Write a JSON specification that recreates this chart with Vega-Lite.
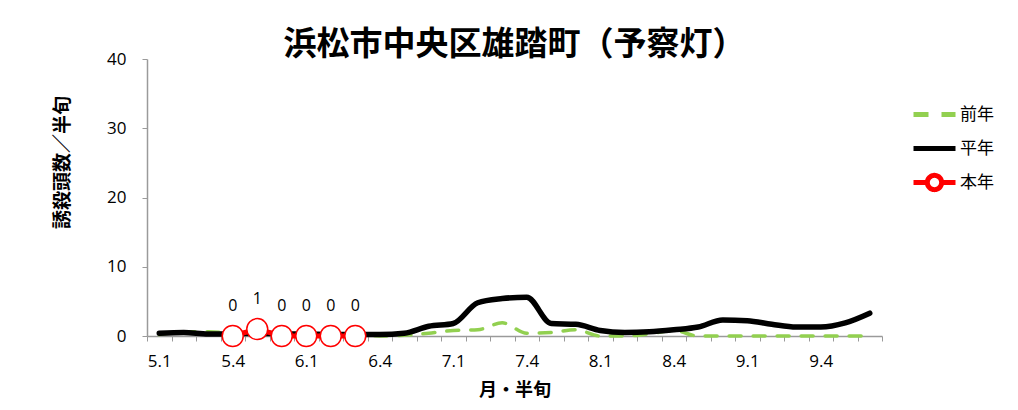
{
  "$schema": "https://vega.github.io/schema/vega-lite/v6.json",
  "width": 735,
  "height": 277,
  "autosize": {"type": "none"},
  "padding": {"left": 147, "top": 59, "right": 136, "bottom": 74},
  "background": "white",
  "config": {
    "view": {"stroke": null},
    "font": "Noto Sans CJK JP"
  },
  "title": {
    "text": "浜松市中央区雄踏町（予察灯）",
    "fontSize": 33,
    "fontWeight": "bold",
    "font": "Noto Sans CJK JP",
    "color": "black",
    "anchor": "middle",
    "frame": "group",
    "baseline": "middle",
    "offset": -28
  },
  "data": {
    "values": [
      {"period": "5.1", "series": "前年", "value": 0.2},
      {"period": "5.2", "series": "前年", "value": 0.6},
      {"period": "5.3", "series": "前年", "value": 0.6},
      {"period": "5.4", "series": "前年", "value": 0.4},
      {"period": "5.5", "series": "前年", "value": 0.3},
      {"period": "5.6", "series": "前年", "value": 0.3},
      {"period": "6.1", "series": "前年", "value": 0.2},
      {"period": "6.2", "series": "前年", "value": 0.2},
      {"period": "6.3", "series": "前年", "value": 0.2},
      {"period": "6.4", "series": "前年", "value": 0},
      {"period": "6.5", "series": "前年", "value": 0.1},
      {"period": "6.6", "series": "前年", "value": 0.4},
      {"period": "7.1", "series": "前年", "value": 0.8},
      {"period": "7.2", "series": "前年", "value": 0.9},
      {"period": "7.3", "series": "前年", "value": 1.9},
      {"period": "7.4", "series": "前年", "value": 0.4},
      {"period": "7.5", "series": "前年", "value": 0.5},
      {"period": "7.6", "series": "前年", "value": 0.9},
      {"period": "8.1", "series": "前年", "value": 0},
      {"period": "8.2", "series": "前年", "value": 0},
      {"period": "8.3", "series": "前年", "value": 0.3},
      {"period": "8.4", "series": "前年", "value": 0.8},
      {"period": "8.5", "series": "前年", "value": 0},
      {"period": "8.6", "series": "前年", "value": 0},
      {"period": "9.1", "series": "前年", "value": 0},
      {"period": "9.2", "series": "前年", "value": 0},
      {"period": "9.3", "series": "前年", "value": 0},
      {"period": "9.4", "series": "前年", "value": 0},
      {"period": "9.5", "series": "前年", "value": 0},
      {"period": "9.6", "series": "前年", "value": 0},
      {"period": "5.1", "series": "平年", "value": 0.4},
      {"period": "5.2", "series": "平年", "value": 0.5},
      {"period": "5.3", "series": "平年", "value": 0.3},
      {"period": "5.4", "series": "平年", "value": 0.3},
      {"period": "5.5", "series": "平年", "value": 0.4},
      {"period": "5.6", "series": "平年", "value": 0.3},
      {"period": "6.1", "series": "平年", "value": 0.3},
      {"period": "6.2", "series": "平年", "value": 0.2},
      {"period": "6.3", "series": "平年", "value": 0.2},
      {"period": "6.4", "series": "平年", "value": 0.2},
      {"period": "6.5", "series": "平年", "value": 0.4},
      {"period": "6.6", "series": "平年", "value": 1.4},
      {"period": "7.1", "series": "平年", "value": 1.8},
      {"period": "7.2", "series": "平年", "value": 4.8},
      {"period": "7.3", "series": "平年", "value": 5.4},
      {"period": "7.4", "series": "平年", "value": 5.6},
      {"period": "7.5", "series": "平年", "value": 1.8},
      {"period": "7.6", "series": "平年", "value": 1.7},
      {"period": "8.1", "series": "平年", "value": 0.8},
      {"period": "8.2", "series": "平年", "value": 0.5},
      {"period": "8.3", "series": "平年", "value": 0.6},
      {"period": "8.4", "series": "平年", "value": 0.9},
      {"period": "8.5", "series": "平年", "value": 1.3},
      {"period": "8.6", "series": "平年", "value": 2.3},
      {"period": "9.1", "series": "平年", "value": 2.2},
      {"period": "9.2", "series": "平年", "value": 1.7},
      {"period": "9.3", "series": "平年", "value": 1.3},
      {"period": "9.4", "series": "平年", "value": 1.3},
      {"period": "9.5", "series": "平年", "value": 1.9},
      {"period": "9.6", "series": "平年", "value": 3.3},
      {"period": "5.4", "series": "本年", "value": 0},
      {"period": "5.5", "series": "本年", "value": 1},
      {"period": "5.6", "series": "本年", "value": 0},
      {"period": "6.1", "series": "本年", "value": 0},
      {"period": "6.2", "series": "本年", "value": 0},
      {"period": "6.3", "series": "本年", "value": 0}
    ]
  },
  "encoding": {
    "x": {
      "field": "period",
      "type": "nominal",
      "sort": null,
      "scale": {
        "type": "band",
        "paddingInner": 0,
        "paddingOuter": 0,
        "domain": ["5.1","5.2","5.3","5.4","5.5","5.6","6.1","6.2","6.3","6.4","6.5","6.6","7.1","7.2","7.3","7.4","7.5","7.6","8.1","8.2","8.3","8.4","8.5","8.6","9.1","9.2","9.3","9.4","9.5","9.6"]
      },
      "axis": {
        "title": "月・半旬",
        "titleFont": "Noto Sans CJK JP",
        "titleFontSize": 18,
        "titleFontWeight": "bold",
        "titleColor": "black",
        "titlePadding": 12,
        "labelAngle": 0,
        "labelFont": "Open Sans",
        "labelFontSize": 17,
        "labelColor": "black",
        "labelPadding": 12,
        "labelOverlap": false,
        "labelExpr": "indexof(['5.1','5.4','6.1','6.4','7.1','7.4','8.1','8.4','9.1','9.4'], datum.value) >= 0 ? datum.value : ''",
        "tickBand": "extent",
        "tickSize": 5,
        "tickColor": "#9a9a9a",
        "domainColor": "#9a9a9a",
        "domainWidth": 1.5,
        "grid": false
      }
    },
    "y": {
      "field": "value",
      "type": "quantitative",
      "scale": {"domain": [0, 40], "nice": false},
      "axis": {
        "title": "誘殺頭数／半旬",
        "titleFont": "Noto Sans CJK JP",
        "titleFontSize": 19,
        "titleFontWeight": "bold",
        "titleColor": "black",
        "titleAngle": -90,
        "titleX": -85,
        "titleY": 103,
        "titleBaseline": "middle",
        "titleAlign": "center",
        "values": [0, 10, 20, 30, 40],
        "labelFont": "Open Sans",
        "labelFontSize": 17,
        "labelColor": "black",
        "labelPadding": 16,
        "tickSize": 5,
        "tickColor": "#9a9a9a",
        "domainColor": "#9a9a9a",
        "domainWidth": 1.5,
        "grid": false
      }
    }
  },
  "layer": [
    {
      "transform": [{"filter": "datum.series === '前年'"}],
      "mark": {"type": "line", "strokeWidth": 3.5, "strokeDash": [12, 12], "strokeCap": "round", "interpolate": "monotone"},
      "encoding": {
        "color": {
          "field": "series",
          "type": "nominal",
          "scale": {"domain": ["前年", "平年", "本年"], "range": ["#92D050", "#000000", "#FF0000"]},
          "legend": {
            "title": null,
            "orient": "none",
            "legendX": 764,
            "legendY": 32,
            "symbolSize": 1764,
            "symbolType": "stroke",
            "symbolStrokeWidth": 5,
            "labelFont": "Noto Sans CJK JP",
            "labelFontSize": 17,
            "labelColor": "black",
            "labelOffset": 2,
            "rowPadding": -8,
            "encode": {
              "symbols": {
                "update": {
                  "shape": {"signal": "datum.value === '本年' ? 'M-1,0L-0.34,0M0.34,0L1,0M-0.34,0A0.34,0.34,0,1,1,0.34,0A0.34,0.34,0,1,1,-0.34,0' : 'stroke'"},
                  "strokeDash": {"signal": "datum.value === '前年' ? [15, 13] : [1, 0]"},
                  "fill": {"signal": "datum.value === '本年' ? 'white' : 'transparent'"},
                  "fillOpacity": {"value": 1}
                }
              }
            }
          }
        }
      }
    },
    {
      "transform": [{"filter": "datum.series === '平年'"}],
      "mark": {"type": "line", "strokeWidth": 5.5, "strokeCap": "round", "strokeJoin": "round", "interpolate": "monotone"},
      "encoding": {"color": {"field": "series", "type": "nominal"}}
    },
    {
      "transform": [{"filter": "datum.series === '本年'"}],
      "mark": {"type": "line", "strokeWidth": 5},
      "encoding": {"color": {"field": "series", "type": "nominal"}}
    },
    {
      "transform": [{"filter": "datum.series === '本年'"}],
      "mark": {"type": "point", "shape": "circle", "size": 440, "filled": true, "fill": "white", "stroke": "#FF0000", "strokeWidth": 1.5, "opacity": 1},
      "encoding": {}
    },
    {
      "transform": [{"filter": "datum.series === '本年'"}],
      "mark": {"type": "text", "dy": -30, "font": "Open Sans", "fontSize": 16, "color": "black"},
      "encoding": {"text": {"field": "value", "type": "quantitative"}}
    }
  ]
}
